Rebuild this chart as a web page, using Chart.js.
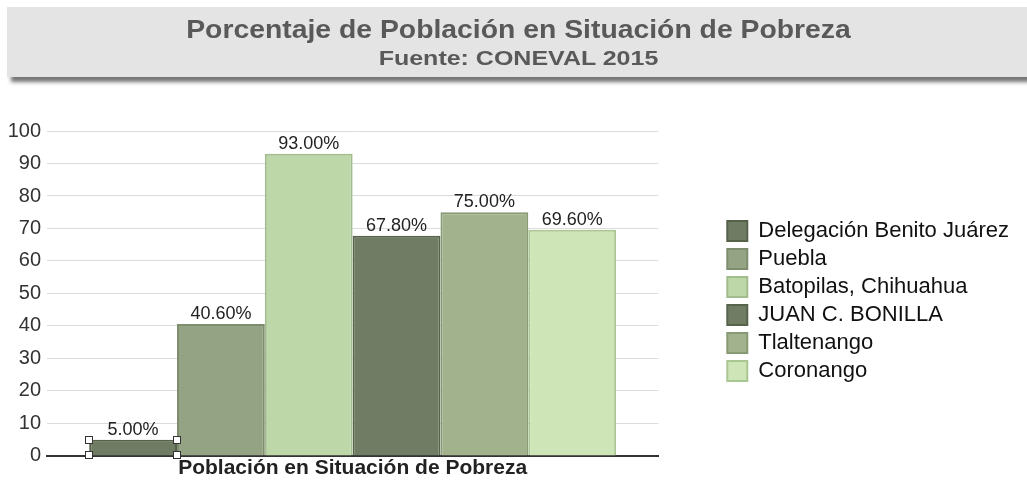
<!DOCTYPE html>
<html>
<head>
<meta charset="utf-8">
<script src="https://cdn.jsdelivr.net/npm/chart.js@4.4.1/dist/chart.umd.min.js"></script>
<style>
  html, body { margin:0; padding:0; background:#fff; width:1027px; height:480px; overflow:hidden; font-family:"Liberation Sans", Arial, sans-serif; }
  #header { position:absolute; left:7px; top:7px; width:1030px; height:70px; background:#e4e4e4;
            box-shadow: 4px 5px 4px rgba(0,0,0,0.55); z-index:2; }
  .t { position:absolute; left:-2px; width:1027px; text-align:center; font-weight:bold; color:#595959; white-space:nowrap; }
  #t1 { top:7px; font-size:26px; line-height:30px; transform:scaleX(1.09); }
  #t2 { top:39px; font-size:21px; line-height:24px; transform:scaleX(1.19); }
  #wrap { position:absolute; left:0; top:0; width:1027px; height:480px; }
</style>
</head>
<body>
<div id="header"><div class="t" id="t1">Porcentaje de Población en Situación de Pobreza</div><div class="t" id="t2">Fuente: CONEVAL 2015</div></div>
<div id="wrap"><canvas id="c" width="1027" height="480"></canvas></div>
<script>
const categories = ['Población en Situación de Pobreza'];
const seriesNames = ['Delegación Benito Juárez', 'Puebla', 'Batopilas, Chihuahua', 'JUAN C. BONILLA', 'Tlaltenango', 'Coronango'];
const seriesValues = [5.0, 40.6, 93.0, 67.8, 75.0, 69.6];
const yTicks = [0, 10, 20, 30, 40, 50, 60, 70, 80, 90, 100];

const fills = ['#6f7b62', '#94a383', '#bed7a9', '#707c63', '#a2b28d', '#cde5b7'];
const borders = ['#56614a', '#7e8d6d', '#a3bc8e', '#58634b', '#889a73', '#aac693'];

const datasets = seriesNames.map((n, i) => ({
  label: n,
  data: [seriesValues[i]],
  backgroundColor: fills[i],
  borderColor: borders[i],
  borderWidth: 2,
  borderSkipped: 'bottom'
}));

const labelPlugin = {
  id: 'valueLabels',
  afterDatasetsDraw(chart) {
    const ctx = chart.ctx;
    ctx.save();
    ctx.font = '18px "Liberation Sans", Arial, sans-serif';
    ctx.fillStyle = '#222';
    ctx.textAlign = 'center';
    ctx.textBaseline = 'bottom';
    chart.data.datasets.forEach((ds, i) => {
      const meta = chart.getDatasetMeta(i);
      meta.data.forEach((bar, j) => {
        ctx.fillText(ds.data[j].toFixed(2) + '%', bar.x, bar.y - 1);
      });
    });
    // selection handles on first bar
    const b = chart.getDatasetMeta(0).data[0];
    const half = b.width / 2;
    const pts = [[b.x - half, b.y], [b.x + half, b.y], [b.x - half, b.base], [b.x + half, b.base]];
    ctx.fillStyle = '#fff';
    ctx.strokeStyle = '#333';
    ctx.lineWidth = 1;
    pts.forEach(p => {
      ctx.fillRect(Math.round(p[0]) - 3.5, Math.round(p[1]) - 3.5, 7, 7);
      ctx.strokeRect(Math.round(p[0]) - 3.5, Math.round(p[1]) - 3.5, 7, 7);
    });
    ctx.restore();
  }
};

Chart.defaults.font.family = '"Liberation Sans", Arial, sans-serif';

new Chart(document.getElementById('c'), {
  type: 'bar',
  data: { labels: categories, datasets },
  options: {
    responsive: false,
    animation: false,
    layout: { padding: { left: 5, right: 8, top: 122, bottom: 0 } },
    datasets: { bar: { categoryPercentage: 0.862, barPercentage: 1.0 } },
    plugins: {
      legend: {
        position: 'right',
        maxWidth: 500,
        labels: {
          boxWidth: 20, boxHeight: 20, padding: 6,
          color: '#111',
          font: { size: 22 }
        }
      },
      tooltip: { enabled: false }
    },
    scales: {
      x: {
        grid: { display: false, drawTicks: false },
        border: { display: true, color: '#333', width: 2 },
        ticks: { color: '#222', padding: 1, font: { size: 21, weight: 'bold', lineHeight: 1.05 } }
      },
      topSpacer: {
        type: 'category',
        axis: 'x',
        position: 'top',
        display: true,
        afterFit(scale) { scale.height = 9; },
        grid: { display: false },
        border: { display: false },
        ticks: { display: false }
      },
      y: {
        min: 0, max: 100,
        afterBuildTicks(scale) { scale.ticks = yTicks.map(v => ({ value: v })); },
        afterFit(scale) { scale.width = 42; },
        grid: { color: '#dcdcdc', lineWidth: 1, drawTicks: false },
        border: { display: false },
        ticks: { color: '#333', padding: 6, font: { size: 20 } }
      },
      spacer: {
        position: 'right',
        display: true,
        afterFit(scale) { scale.width = 63; },
        grid: { display: false },
        border: { display: false },
        ticks: { display: false }
      }
    }
  },
  plugins: [labelPlugin]
});
</script>
</body>
</html>
